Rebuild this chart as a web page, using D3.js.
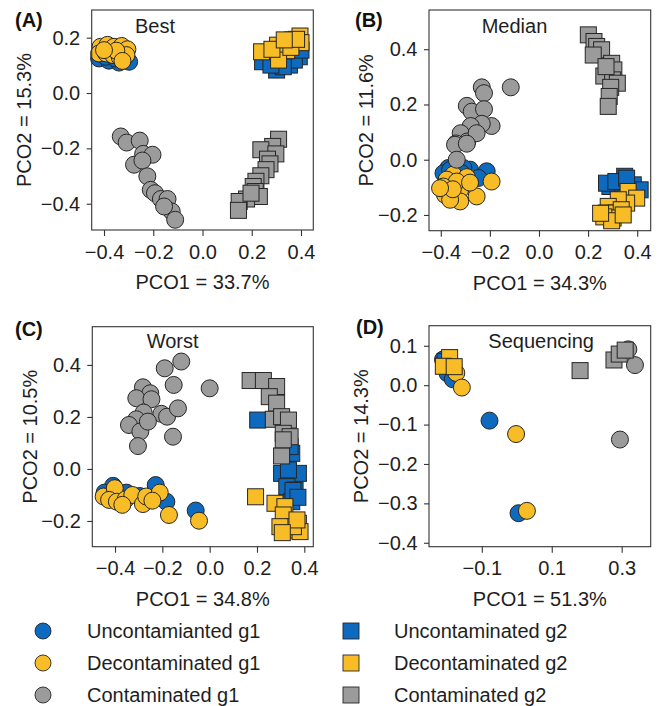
<!DOCTYPE html>
<html>
<head>
<meta charset="utf-8">
<script src="https://cdn.jsdelivr.net/npm/d3@7"></script>
<style>
  html, body { margin: 0; padding: 0; background: #fff; }
  svg { display: block; font-family: "Liberation Sans", Arial, Helvetica, sans-serif; }
</style>
</head>
<body>
<svg id="chart" width="663" height="706"></svg>
<script>
// ---- PCO scores: [PCO1, PCO2] per sample ----

// (A) Best
const best_uncont_g1 = [[-0.420,0.125],[-0.380,0.117],[-0.339,0.110],[-0.298,0.113],[-0.393,0.131],[-0.353,0.125],[-0.319,0.131]];
const best_decont_g1 = [[-0.414,0.167],[-0.386,0.174],[-0.359,0.167],[-0.328,0.170],[-0.305,0.158],[-0.420,0.143],[-0.391,0.143],[-0.363,0.137],[-0.336,0.129],[-0.309,0.137],[-0.350,0.153],[-0.400,0.155],[-0.325,0.116]];
const best_cont_g1 = [[-0.332,-0.157],[-0.308,-0.179],[-0.255,-0.172],[-0.241,-0.220],[-0.203,-0.223],[-0.278,-0.259],[-0.244,-0.244],[-0.224,-0.301],[-0.210,-0.350],[-0.193,-0.362],[-0.169,-0.383],[-0.142,-0.383],[-0.125,-0.428],[-0.111,-0.458],[-0.156,-0.410]];
const best_uncont_g2 = [[0.244,0.113],[0.301,0.083],[0.353,0.101],[0.393,0.131],[0.373,0.119],[0.328,0.095],[0.278,0.101],[0.400,0.155]];
const best_decont_g2 = [[0.240,0.149],[0.305,0.173],[0.366,0.192],[0.396,0.206],[0.400,0.182],[0.342,0.153],[0.309,0.119],[0.359,0.165],[0.382,0.194],[0.282,0.158],[0.332,0.192]];
const best_cont_g2 = [[0.309,-0.167],[0.285,-0.193],[0.237,-0.205],[0.298,-0.220],[0.264,-0.239],[0.274,-0.256],[0.258,-0.277],[0.237,-0.299],[0.217,-0.319],[0.206,-0.338],[0.214,-0.356],[0.231,-0.374],[0.179,-0.383],[0.149,-0.392],[0.146,-0.424],[0.197,-0.362]];

// (B) Median
const median_uncont_g1 = [[-0.369,-0.030],[-0.281,-0.036],[-0.213,-0.042],[-0.247,-0.066],[-0.308,-0.030],[-0.389,-0.049],[-0.362,-0.037],[-0.315,-0.049]];
const median_decont_g1 = [[-0.349,-0.054],[-0.376,-0.072],[-0.294,-0.063],[-0.193,-0.079],[-0.383,-0.127],[-0.321,-0.109],[-0.321,-0.151],[-0.254,-0.133],[-0.362,-0.145],[-0.335,-0.079],[-0.390,-0.097],[-0.351,-0.107],[-0.403,-0.103],[-0.281,-0.083]];
const median_cont_g1 = [[-0.233,0.262],[-0.224,0.241],[-0.115,0.262],[-0.294,0.195],[-0.274,0.174],[-0.224,0.183],[-0.193,0.122],[-0.233,0.130],[-0.278,0.122],[-0.319,0.096],[-0.292,0.066],[-0.338,0.059],[-0.254,0.096],[-0.342,0.054],[-0.294,0.058],[-0.335,0.000]];
const median_uncont_g2 = [[0.349,-0.060],[0.289,-0.097],[0.384,-0.091],[0.323,-0.084],[0.412,-0.109],[0.275,-0.085],[0.313,-0.079],[0.357,-0.067]];
const median_decont_g2 = [[0.363,-0.115],[0.398,-0.139],[0.357,-0.157],[0.323,-0.145],[0.282,-0.169],[0.274,-0.193],[0.315,-0.193],[0.335,-0.181],[0.302,-0.211],[0.264,-0.207],[0.296,-0.221],[0.251,-0.194],[0.343,-0.200]];
const median_cont_g2 = [[0.201,0.452],[0.224,0.428],[0.235,0.410],[0.255,0.398],[0.221,0.379],[0.296,0.349],[0.305,0.325],[0.264,0.303],[0.300,0.289],[0.319,0.277],[0.292,0.262],[0.286,0.229],[0.282,0.193],[0.273,0.337]];

// (C) Worst
const worst_uncont_g1 = [[-0.408,-0.065],[-0.444,-0.091],[-0.352,-0.091],[-0.228,-0.062],[-0.183,-0.126],[-0.059,-0.160],[-0.296,-0.104]];
const worst_decont_g1 = [[-0.448,-0.106],[-0.401,-0.074],[-0.425,-0.119],[-0.392,-0.126],[-0.355,-0.117],[-0.327,-0.100],[-0.282,-0.135],[-0.268,-0.106],[-0.211,-0.091],[-0.172,-0.177],[-0.045,-0.199],[-0.242,-0.122],[-0.369,-0.138]];
const worst_cont_g1 = [[-0.120,0.413],[-0.190,0.387],[-0.152,0.323],[0.000,0.310],[-0.282,0.314],[-0.251,0.291],[-0.310,0.272],[-0.246,0.268],[-0.279,0.217],[-0.204,0.212],[-0.180,0.201],[-0.134,0.233],[-0.310,0.191],[-0.341,0.169],[-0.293,0.144],[-0.155,0.124],[-0.303,0.088],[-0.261,0.182]];
const worst_uncont_g2 = [[0.203,0.188],[0.347,0.060],[0.304,-0.017],[0.375,-0.017],[0.333,-0.004],[0.326,-0.068],[0.361,-0.081],[0.347,-0.126],[0.340,0.086],[0.352,-0.083],[0.373,-0.109]];
const worst_decont_g2 = [[0.194,-0.107],[0.276,-0.132],[0.318,-0.145],[0.311,-0.177],[0.375,-0.209],[0.326,-0.235],[0.382,-0.241],[0.354,-0.222],[0.297,-0.222],[0.369,-0.196],[0.307,-0.245]];
const worst_cont_g2 = [[0.171,0.340],[0.227,0.340],[0.283,0.317],[0.252,0.278],[0.283,0.253],[0.269,0.191],[0.304,0.201],[0.333,0.188],[0.311,0.137],[0.340,0.124],[0.304,0.050],[0.311,0.112]];

// (D) Sequencing
const seq_uncont_g1 = [[-0.211,0.065],[-0.198,0.030],[-0.183,0.015],[-0.078,-0.090],[0.005,-0.325]];
const seq_decont_g1 = [[-0.173,0.031],[-0.157,-0.006],[-0.002,-0.124],[0.029,-0.319]];
const seq_cont_g1 = [[0.319,0.091],[0.338,0.051],[0.295,-0.138]];
const seq_uncont_g2 = [[-0.205,0.060]];
const seq_decont_g2 = [[-0.192,0.070],[-0.210,0.048],[-0.179,0.047]];
const seq_cont_g2 = [[0.181,0.037],[0.278,0.064],[0.293,0.079],[0.310,0.089]];

// ---- axis ticks and labels ----
const panelLetters = ["(A)", "(B)", "(C)", "(D)"];
const panelTitles = ["Best", "Median", "Worst", "Sequencing"];
const xTitles = ["PCO1 = 33.7%", "PCO1 = 34.3%", "PCO1 = 34.8%", "PCO1 = 51.3%"];
const yTitles = ["PCO2 = 15.3%", "PCO2 = 11.6%", "PCO2 = 10.5%", "PCO2 = 14.3%"];
const xTicksA = [-0.4, -0.2, 0.0, 0.2, 0.4];
const yTicksA = [-0.4, -0.2, 0.0, 0.2];
const xTicksB = [-0.4, -0.2, 0.0, 0.2, 0.4];
const yTicksB = [-0.2, 0.0, 0.2, 0.4];
const xTicksC = [-0.4, -0.2, 0.0, 0.2, 0.4];
const yTicksC = [-0.2, 0.0, 0.2, 0.4];
const xTicksD = [-0.1, 0.1, 0.3];
const yTicksD = [-0.4, -0.3, -0.2, -0.1, 0.0, 0.1];

// ---- legend ----
const legendLabels = ["Uncontamianted g1", "Decontaminated g1", "Contaminated g1",
                      "Uncontaminated g2", "Decontaminated g2", "Contaminated g2"];

// ---- styling ----
const BLUE = "#0d6abf", YELLOW = "#f8bd26", GRAY = "#9b9b9b", EDGE = "#262626", INK = "#1e1e1e";
const groupStyles = [
  { shape: "circle", fill: BLUE },
  { shape: "circle", fill: YELLOW },
  { shape: "circle", fill: GRAY },
  { shape: "square", fill: BLUE },
  { shape: "square", fill: YELLOW },
  { shape: "square", fill: GRAY }
];

const panels = [
  { box: [91.7, 313.3, 10, 230], xd: [-0.450, 0.450], yd: [-0.495, 0.300], xt: xTicksA, yt: yTicksA,
    ytx: 23.5, title: [135, 33], letter: [15, 26.5],
    groups: [best_uncont_g1, best_decont_g1, best_cont_g1, best_uncont_g2, best_decont_g2, best_cont_g2] },
  { box: [429, 650.7, 10, 230.7], xd: [-0.448, 0.455], yd: [-0.257, 0.542], xt: xTicksB, yt: yTicksB,
    ytx: 365.8, title: [481.7, 33], letter: [355, 26.5],
    groups: [median_uncont_g1, median_decont_g1, median_cont_g1, median_uncont_g2, median_decont_g2, median_cont_g2] },
  { box: [92.3, 313.3, 326.7, 546.7], xd: [-0.496, 0.438], yd: [-0.299, 0.547], xt: xTicksC, yt: yTicksC,
    ytx: 30, title: [146.7, 348], letter: [15, 335.8],
    groups: [worst_uncont_g1, worst_decont_g1, worst_cont_g1, worst_uncont_g2, worst_decont_g2, worst_cont_g2] },
  { box: [429, 650.7, 325.7, 546.7], xd: [-0.251, 0.383], yd: [-0.410, 0.151], xt: xTicksD, yt: yTicksD,
    ytx: 360.8, title: [488.3, 347.7], letter: [356, 334],
    groups: [seq_uncont_g1, seq_decont_g1, seq_cont_g1, seq_uncont_g2, seq_decont_g2, seq_cont_g2] }
];

const svg = d3.select("#chart");
const fmt = d3.format(".1f");
const R = 8.5, SQ = 16;

panels.forEach((p, i) => {
  const [x0, x1, y0, y1] = p.box;
  const x = d3.scaleLinear().domain(p.xd).range([x0, x1]);
  const y = d3.scaleLinear().domain(p.yd).range([y1, y0]);
  const g = svg.append("g");

  // points: circles (g1) first, then squares (g2)
  p.groups.forEach((pts, k) => {
    const st = groupStyles[k];
    const layer = g.append("g");
    if (st.shape === "circle") {
      layer.selectAll("circle").data(pts).join("circle")
        .attr("cx", d => x(d[0])).attr("cy", d => y(d[1])).attr("r", R)
        .attr("fill", st.fill).attr("stroke", EDGE).attr("stroke-width", 1);
    } else {
      layer.selectAll("rect").data(pts).join("rect")
        .attr("x", d => x(d[0]) - SQ / 2).attr("y", d => y(d[1]) - SQ / 2)
        .attr("width", SQ).attr("height", SQ)
        .attr("fill", st.fill).attr("stroke", EDGE).attr("stroke-width", 1);
    }
  });

  // frame
  g.append("rect").attr("x", x0).attr("y", y0).attr("width", x1 - x0).attr("height", y1 - y0)
    .attr("fill", "none").attr("stroke", "#333").attr("stroke-width", 1.1);

  // axes
  const ax = g.append("g").attr("transform", `translate(0,${y1})`)
    .call(d3.axisBottom(x).tickValues(p.xt).tickFormat(fmt).tickSize(6).tickPadding(8.3).tickSizeOuter(0));
  const ay = g.append("g").attr("transform", `translate(${x0},0)`)
    .call(d3.axisLeft(y).tickValues(p.yt).tickFormat(fmt).tickSize(5).tickPadding(6.5).tickSizeOuter(0));
  [ax, ay].forEach(a => {
    a.select(".domain").remove();
    a.selectAll("line").attr("stroke", "#333").attr("stroke-width", 1.1);
    a.selectAll("text").attr("font-size", 20).attr("fill", INK)
      .attr("font-family", "Liberation Sans, Arial, sans-serif");
  });

  // titles
  g.append("text").attr("x", (x0 + x1) / 2).attr("y", y1 + 59)
    .attr("text-anchor", "middle").attr("font-size", 20).attr("fill", INK).text(xTitles[i]);
  g.append("text").attr("transform", `translate(${p.ytx},${(y0 + y1) / 2}) rotate(-90)`)
    .attr("dy", "0.36em").attr("text-anchor", "middle").attr("font-size", 20).attr("fill", INK).text(yTitles[i]);
  g.append("text").attr("x", p.title[0]).attr("y", p.title[1])
    .attr("font-size", 20).attr("fill", INK).text(panelTitles[i]);
  g.append("text").attr("x", p.letter[0]).attr("y", p.letter[1])
    .attr("font-size", 20).attr("font-weight", "bold").attr("fill", "#111").text(panelLetters[i]);
});

// legend: two columns of three rows
const legRows = [631, 663, 695];
const legCols = [{ mx: 43, tx: 87 }, { mx: 351, tx: 394 }];
legendLabels.forEach((lab, k) => {
  const col = legCols[Math.floor(k / 3)], cy = legRows[k % 3], st = groupStyles[k];
  const lg = svg.append("g");
  if (st.shape === "circle") {
    lg.append("circle").attr("cx", col.mx).attr("cy", cy).attr("r", 8)
      .attr("fill", st.fill).attr("stroke", EDGE).attr("stroke-width", 0.9);
  } else {
    lg.append("rect").attr("x", col.mx - 8).attr("y", cy - 8).attr("width", 16).attr("height", 16)
      .attr("fill", st.fill).attr("stroke", EDGE).attr("stroke-width", 0.9);
  }
  lg.append("text").attr("x", col.tx).attr("y", cy).attr("dy", "0.36em")
    .attr("font-size", 20).attr("fill", INK).text(lab);
});
</script>
</body>
</html>
